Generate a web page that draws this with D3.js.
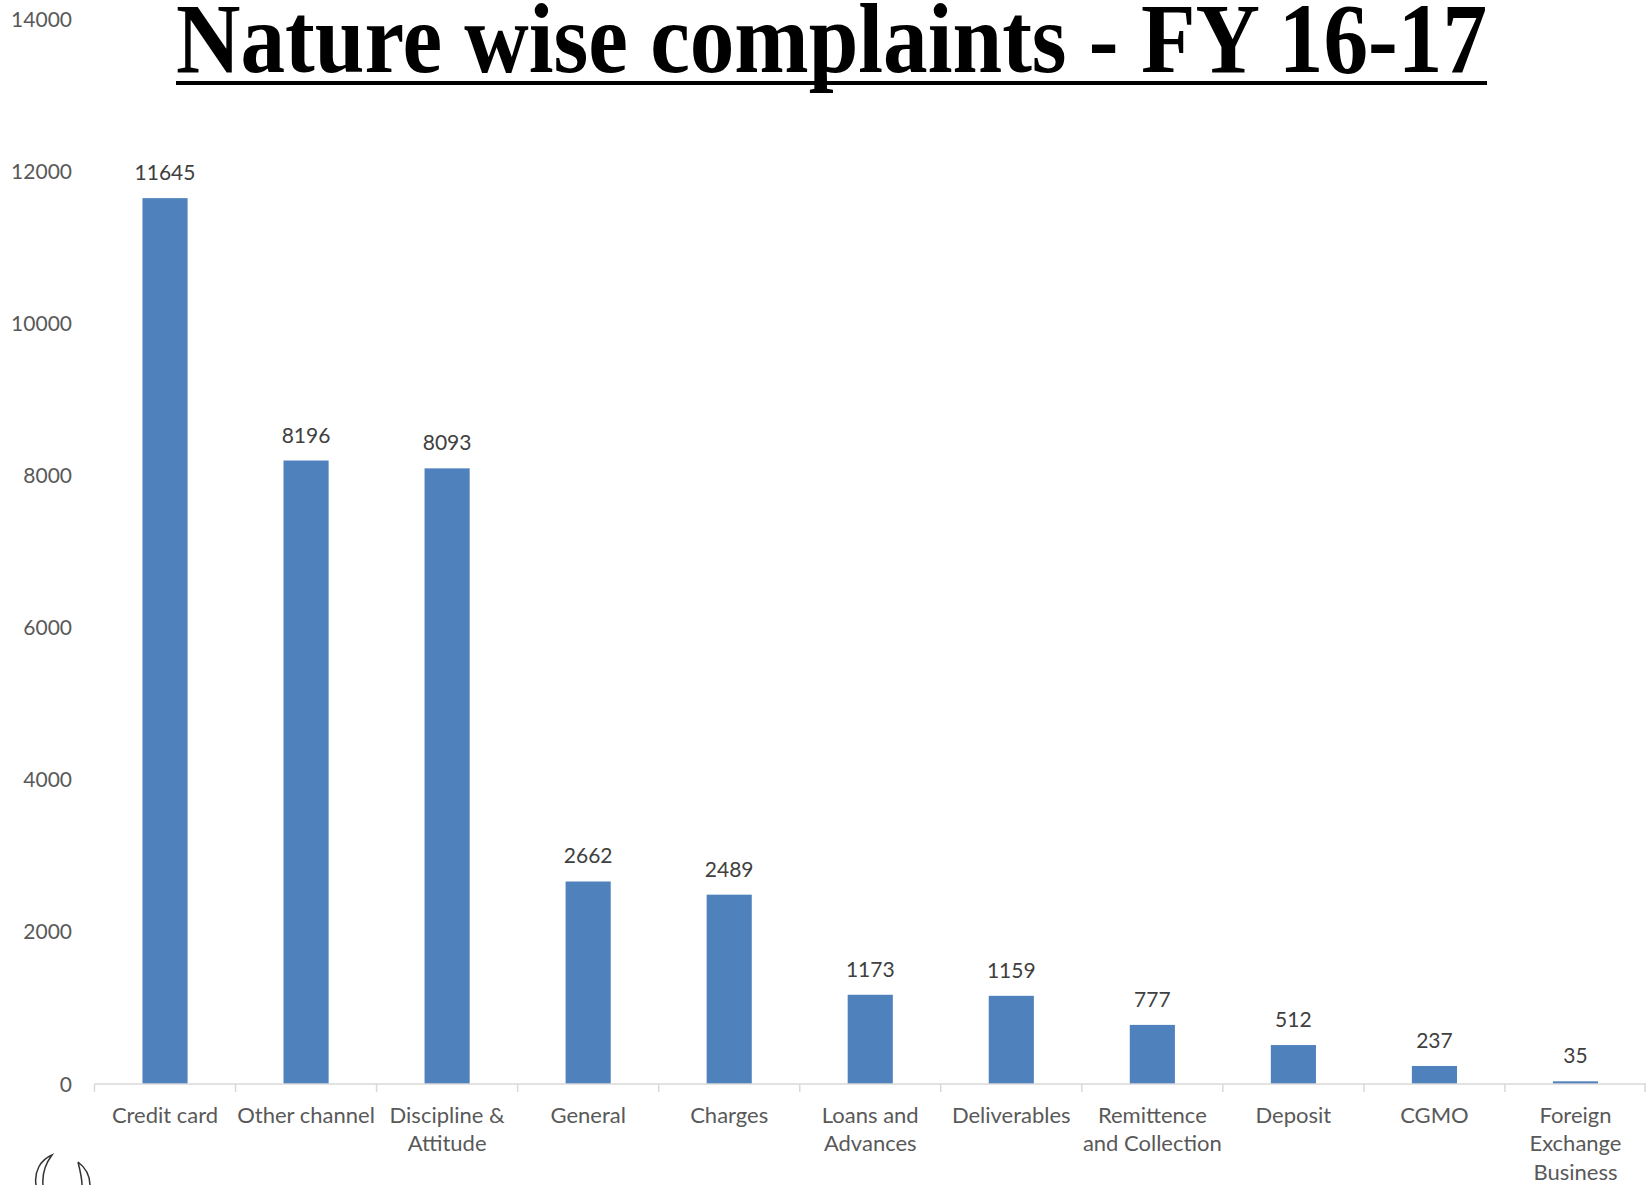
<!DOCTYPE html>
<html>
<head>
<meta charset="utf-8">
<script src="https://cdn.jsdelivr.net/npm/d3@7"></script>
<style>
  html, body { margin: 0; padding: 0; background: #fff; }
  svg { display: block; }
  .yLabel { font-family: Lato, "Open Sans", sans-serif; font-size: 21px; fill: #595959; }
  .xLabel { font-family: Lato, "Open Sans", sans-serif; font-size: 22px; fill: #595959; }
  .valueLabel { font-family: Lato, "Open Sans", sans-serif; font-size: 21px; fill: #404040; }
  .title { font-family: "Liberation Serif", "DejaVu Serif", serif; font-weight: bold; font-size: 100px; fill: #000; }
</style>
</head>
<body>
<svg id="chart"></svg>
<script>
(function () {
    'use strict';

    // data
    var categories = ['Credit card', 'Other channel', 'Discipline & Attitude', 'General', 'Charges',
        'Loans and Advances', 'Deliverables', 'Remittence and Collection', 'Deposit', 'CGMO',
        'Foreign Exchange Business'];
    var labelLines = [['Credit card'], ['Other channel'], ['Discipline &', 'Attitude'], ['General'], ['Charges'],
        ['Loans and', 'Advances'], ['Deliverables'], ['Remittence', 'and Collection'], ['Deposit'], ['CGMO'],
        ['Foreign', 'Exchange', 'Business']];
    var complaints = [11645, 8196, 8093, 2662, 2489, 1173, 1159, 777, 512, 237, 35];
    var yTicks = [0, 2000, 4000, 6000, 8000, 10000, 12000, 14000];
    var titleText = 'Nature wise complaints - FY 16-17';

    var width = 1646;
    var height = 1185;
    var margin = { top: 19, right: 0, bottom: 101, left: 94.5 };

    var svg = d3.select('#chart')
        .attr('width', width)
        .attr('height', height);

    var data = categories.map(function (c, i) {
        return { name: c, lines: labelLines[i], value: complaints[i] };
    });

    var x = d3.scaleBand()
        .domain(categories)
        .range([margin.left, width - margin.right])
        .padding(0);

    var y = d3.scaleLinear()
        .domain([0, 14000])
        .range([height - margin.bottom, margin.top]);

    var barW = x.bandwidth() * 0.32;

    // y tick labels (no axis line)
    svg.selectAll('text.yLabel')
        .data(yTicks)
        .enter()
        .append('text')
        .attr('class', 'yLabel')
        .attr('x', 72)
        .attr('y', function (d) { return y(d); })
        .attr('dy', '0.36em')
        .style('text-anchor', 'end')
        .text(function (d) { return d; });

    // bars
    svg.selectAll('rect.bar')
        .data(data)
        .enter()
        .append('rect')
        .attr('class', 'bar')
        .attr('x', function (d) { return x(d.name) + (x.bandwidth() - barW) / 2; })
        .attr('width', barW)
        .attr('y', function (d) { return y(d.value); })
        .attr('height', function (d) { return y(0) - y(d.value); })
        .style('fill', '#4F81BD');

    // axis line + category boundary ticks
    var base = y(0);
    svg.append('line')
        .attr('x1', x.range()[0])
        .attr('x2', x.range()[1])
        .attr('y1', base)
        .attr('y2', base)
        .style('stroke', '#D9D9D9')
        .style('stroke-width', 1.5);

    var bounds = categories.map(function (c) { return x(c); }).concat([x.range()[1] - 1]);
    svg.selectAll('line.tick')
        .data(bounds)
        .enter()
        .append('line')
        .attr('class', 'tick')
        .attr('x1', function (d) { return d; })
        .attr('x2', function (d) { return d; })
        .attr('y1', base)
        .attr('y2', base + 8)
        .style('stroke', '#D9D9D9')
        .style('stroke-width', 1.5);

    // value labels
    svg.selectAll('text.valueLabel')
        .data(data)
        .enter()
        .append('text')
        .attr('class', 'valueLabel')
        .attr('x', function (d) { return x(d.name) + x.bandwidth() / 2; })
        .attr('y', function (d) { return y(d.value) - 18; })
        .style('text-anchor', 'middle')
        .text(function (d) { return d.value; });

    // category labels
    var xl = svg.selectAll('text.xLabel')
        .data(data)
        .enter()
        .append('text')
        .attr('class', 'xLabel')
        .attr('x', function (d) { return x(d.name) + x.bandwidth() / 2; })
        .attr('y', base + 39)
        .style('text-anchor', 'middle');

    xl.selectAll('tspan')
        .data(function (d) { return d.lines; })
        .enter()
        .append('tspan')
        .attr('x', function () { return d3.select(this.parentNode).attr('x'); })
        .attr('dy', function (d, i) { return i === 0 ? 0 : 28.3; })
        .text(function (d) { return d; });

    // title with underline, squeezed to the reference width
    var titleW = 1311;
    svg.append('text')
        .attr('class', 'title')
        .attr('x', 176)
        .attr('y', 72)
        .attr('textLength', titleW)
        .attr('lengthAdjust', 'spacingAndGlyphs')
        .text(titleText);

    svg.append('rect')
        .attr('x', 176)
        .attr('y', 81)
        .attr('width', titleW)
        .attr('height', 4)
        .style('fill', '#000');

    // partial logo sketch in bottom-left corner
    svg.append('path')
        .attr('d', 'M36,1185 C34,1172 40,1160 52,1155 C46,1163 42,1174 43,1185')
        .style('fill', 'none')
        .style('stroke', '#333')
        .style('stroke-width', 1.5);
    svg.append('path')
        .attr('d', 'M78,1162 C86,1168 90,1177 90,1185 M78,1162 C80,1170 82,1178 82,1185')
        .style('fill', 'none')
        .style('stroke', '#333')
        .style('stroke-width', 1.5);
}());
</script>
</body>
</html>
